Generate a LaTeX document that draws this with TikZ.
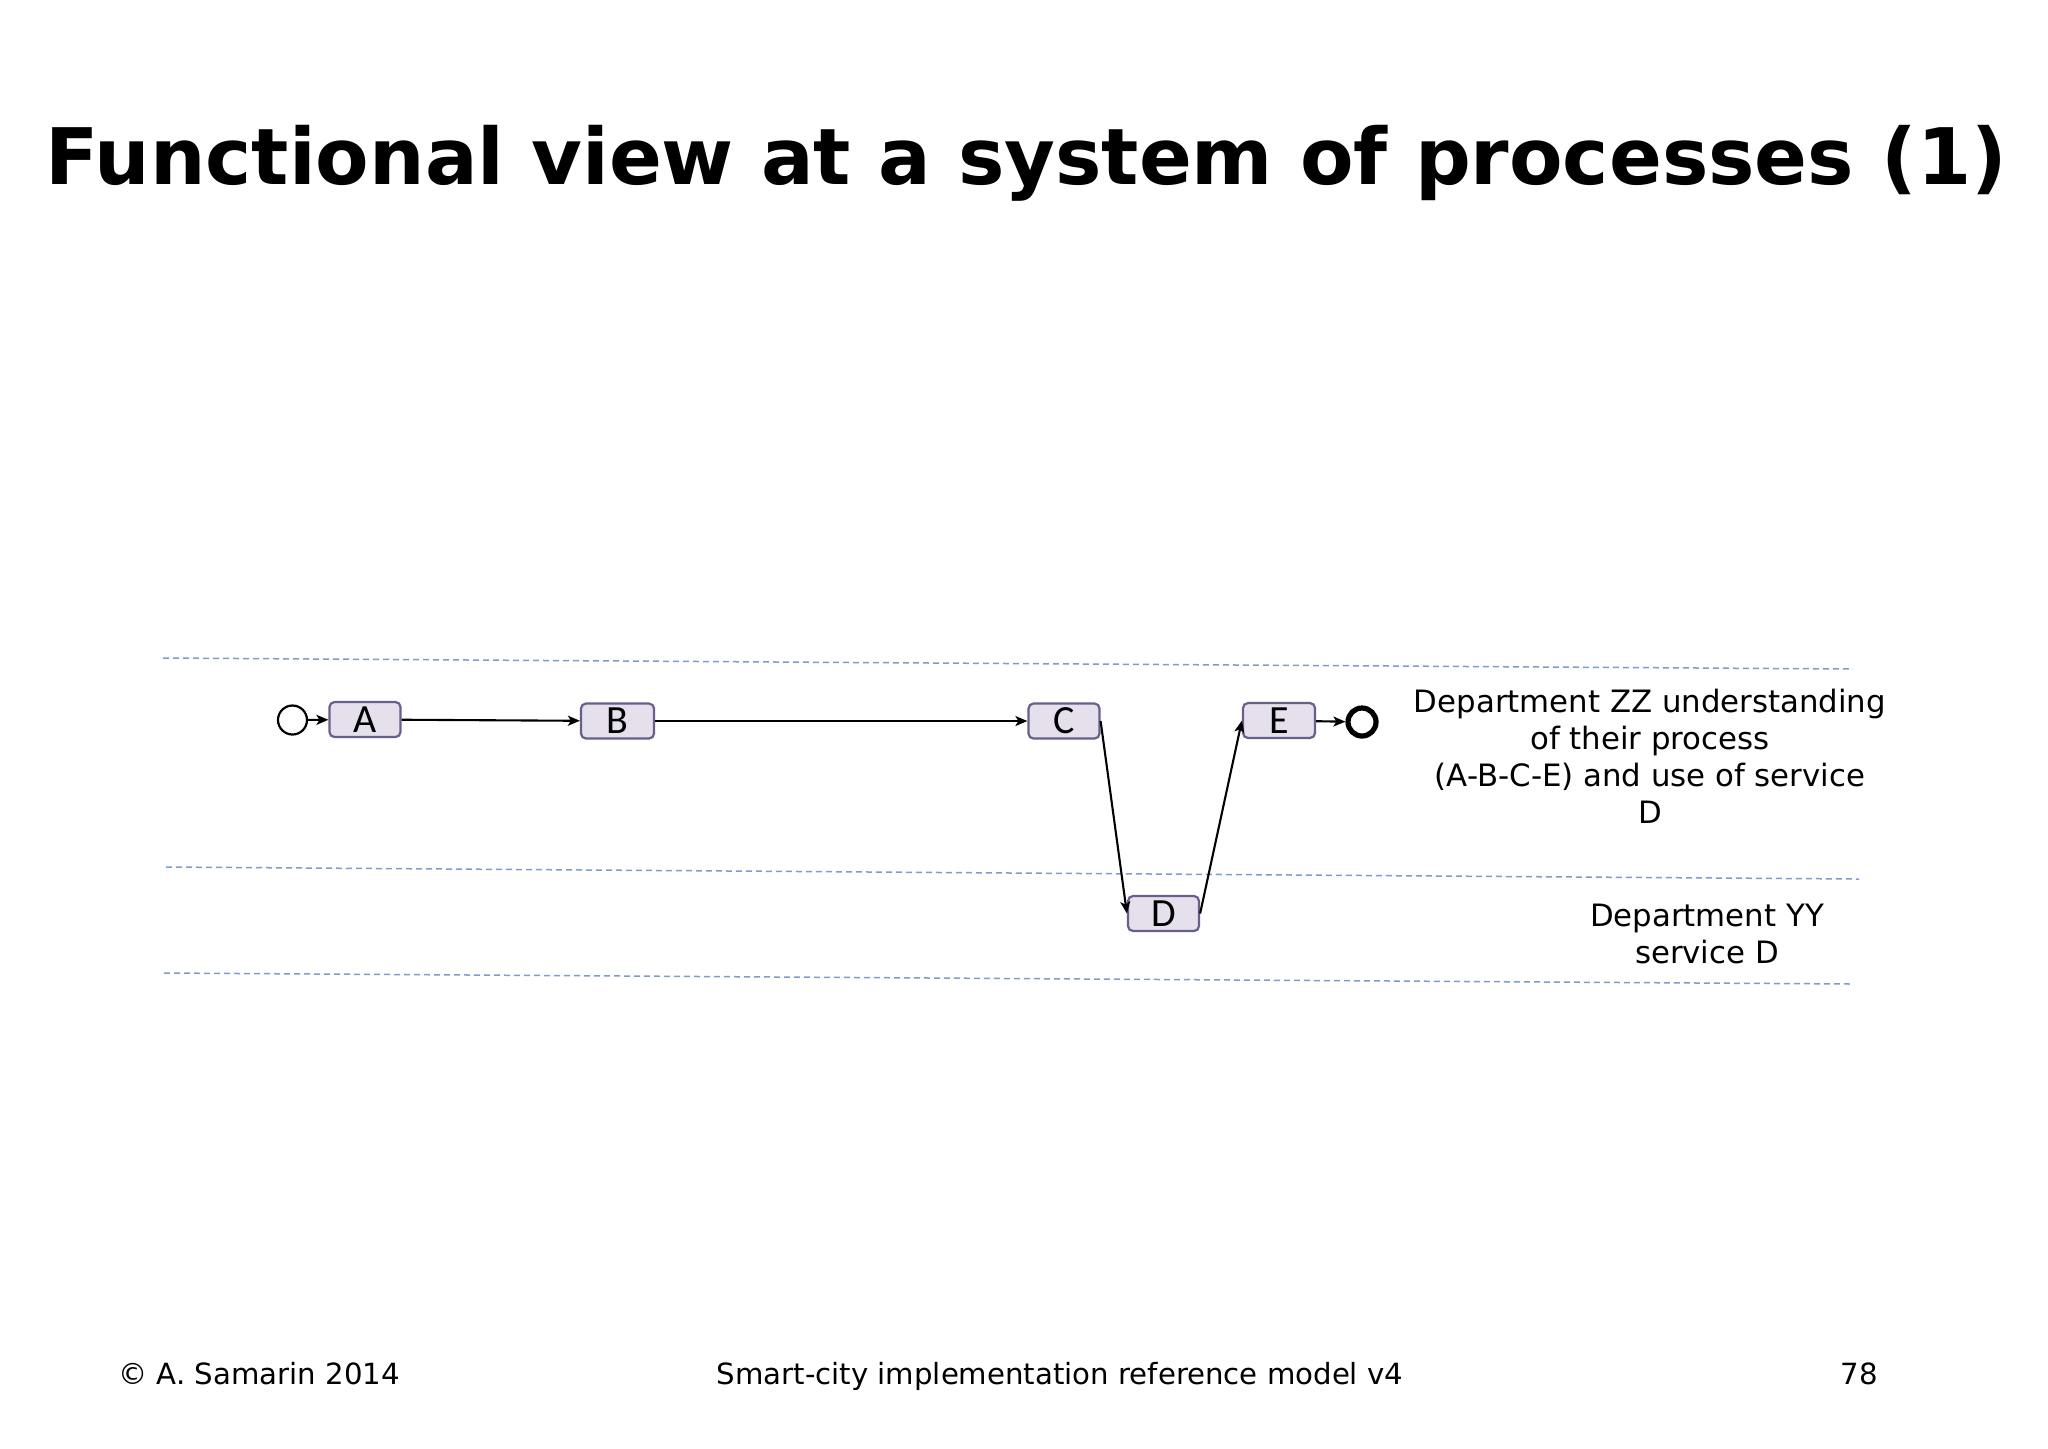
\documentclass[tikz,border=0pt]{standalone}
\usepackage{fontspec}
\setmainfont{DejaVu Sans}
\newfontfamily\boxfont{Carlito}
\usetikzlibrary{arrows.meta,shapes.geometric}
\definecolor{procfill}{HTML}{E5E0EC}
\definecolor{procborder}{HTML}{6A5E8A}
\definecolor{lanecol}{HTML}{7F9DC9}
\begin{document}
\begin{tikzpicture}[x=0.5pt,y=-0.5pt,
  proc/.style={draw=procborder, fill=procfill, rounded corners=2.5pt, line width=1.1pt,
    minimum height=17.5pt, minimum width=35.5pt, inner sep=0pt, font=\boxfont\fontsize{20}{20}\selectfont},
  flow/.style={-{Stealth[length=6pt,width=5pt,inset=1.5pt]}, line width=1.05pt},
  lane/.style={draw=lanecol, dash pattern=on 3pt off 2pt, line width=0.75pt},
  lbl/.style={align=center, font=\fontsize{15.4}{18.5}\selectfont, inner sep=0pt},
  foot/.style={font=\fontsize{14.6}{17}\selectfont, inner sep=0pt}]
\useasboundingbox[fill=white] (0,0) rectangle (2048,1448);
% title
\node[anchor=base, inner sep=0pt, font=\bfseries\fontsize{39}{46}\selectfont] (title) at (1026,184) {Functional view at a system of processes (1)};
% lanes
\coordinate (l1a) at (163,658); \coordinate (l1b) at (1853,669);
\coordinate (l2a) at (166,867); \coordinate (l2b) at (1859,879);
\coordinate (l3a) at (164,973); \coordinate (l3b) at (1853,984);
\draw[lane] (l1a) -- (l1b);
\draw[lane] (l2a) -- (l2b);
\draw[lane] (l3a) -- (l3b);
% nodes
\node[draw, circle, line width=1.1pt, minimum size=14.5pt, inner sep=0pt] (start) at (292.5,720) {};
\node[proc] (A) at (365,719.5) {A};
\node[proc, minimum width=36.5pt] (B) at (617.5,721) {B};
\node[proc] (C) at (1064,721) {C};
\node[proc] (D) at (1163.5,913.5) {D};
\node[proc, minimum width=36pt] (E) at (1279,720.5) {E};
\node[draw, circle, line width=2.6pt, minimum size=14pt, inner sep=0pt] (end) at (1362,722) {};
% flows
\draw[flow] (start) -- (A);
\draw[flow] (A) -- (B);
\draw[flow] (B) -- (C);
\draw[flow] (C.east) -- (D.west);
\draw[flow] (D.east) -- (E.west);
\draw[flow] (E) -- (end);
% labels
\node[lbl] (zz) at (1650,756) {Department ZZ understanding\\of their process\\(A-B-C-E) and use of service\\D};
\node[lbl] (yy) at (1707,934) {Department YY\\service D};
% footer
\node[foot, anchor=base west] (copy) at (118,1384) {\textcopyright{} A. Samarin 2014};
\node[foot, anchor=base] (mid) at (1060,1384) {Smart-city implementation reference model v4};
\node[foot, anchor=base east] (page) at (1878,1384) {78};
\end{tikzpicture}
\end{document}
